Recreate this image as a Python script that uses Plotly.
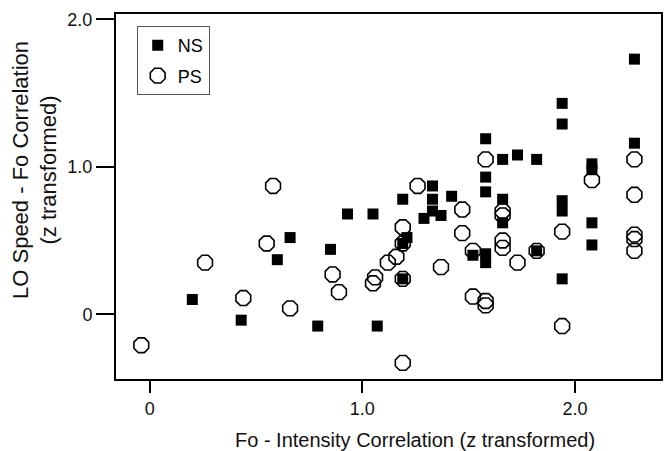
import plotly.graph_objects as go

# NS (filled squares)
ns_x = [0.20, 0.43, 0.60, 0.66, 0.79, 0.85, 0.93, 1.05, 1.07, 1.19, 1.19, 1.21, 1.19,
        1.29, 1.33, 1.33, 1.33, 1.37, 1.42, 1.52, 1.58, 1.58, 1.58, 1.58, 1.58,
        1.66, 1.66, 1.66, 1.73, 1.82, 1.82, 1.94, 1.94, 1.94, 1.94, 1.94,
        2.08, 2.08, 2.08, 2.08, 2.28, 2.28]
ns_y = [0.10, -0.04, 0.37, 0.52, -0.08, 0.44, 0.68, 0.68, -0.08, 0.78, 0.48, 0.52, 0.24,
        0.65, 0.87, 0.78, 0.70, 0.67, 0.80, 0.40, 1.19, 0.93, 0.83, 0.41, 0.35,
        1.05, 0.78, 0.62, 1.08, 1.05, 0.43, 1.43, 1.29, 0.77, 0.70, 0.24,
        1.02, 0.98, 0.62, 0.47, 1.73, 1.16]

# PS (open octagons)
ps_x = [-0.04, 0.26, 0.44, 0.55, 0.58, 0.66, 0.86, 0.89, 1.05, 1.06, 1.12, 1.16,
        1.19, 1.19, 1.19, 1.19, 1.26, 1.37, 1.47, 1.47, 1.52, 1.52, 1.58, 1.58, 1.58,
        1.66, 1.66, 1.66, 1.66, 1.73, 1.82, 1.94, 1.94, 2.08,
        2.28, 2.28, 2.28, 2.28, 2.28]
ps_y = [-0.21, 0.35, 0.11, 0.48, 0.87, 0.04, 0.27, 0.15, 0.21, 0.25, 0.35, 0.39,
        0.59, 0.48, 0.24, -0.33, 0.87, 0.32, 0.71, 0.55, 0.43, 0.12, 1.05, 0.09, 0.06,
        0.70, 0.67, 0.50, 0.45, 0.35, 0.43, 0.56, -0.08, 0.91,
        1.05, 0.81, 0.54, 0.51, 0.43]

tick_vals = [0, 1, 2]
x_tick_text = ["0", "1.0", "2.0"]
y_tick_text = ["0", "1.0", "2.0"]

FONT = "Liberation Sans, Arial, sans-serif"

fig = go.Figure()
fig.add_trace(go.Scatter(
    x=ns_x, y=ns_y, mode="markers", name="NS", legendgroup="a",
    marker=dict(symbol="square", size=11, color="black", line=dict(width=0)),
))
fig.add_trace(go.Scatter(
    x=ps_x, y=ps_y, mode="markers", name="PS", legendgroup="b",
    marker=dict(symbol="octagon-open", size=16, color="black", line=dict(width=1.6, color="black")),
))

fig.update_layout(
    width=665, height=451,
    margin=dict(l=116, r=2, t=14, b=72),
    paper_bgcolor="white", plot_bgcolor="white",
    font=dict(family=FONT, size=18, color="#111"),
    showlegend=True,
    legend=dict(
        x=0.038, y=0.967, xanchor="left", yanchor="top",
        bordercolor="#555", borderwidth=1, bgcolor="white",
        font=dict(size=18, color="black"), tracegroupgap=4,
    ),
    xaxis=dict(
        range=[-0.159, 2.405], tickvals=tick_vals, ticktext=x_tick_text,
        showgrid=False, zeroline=False, showline=True, mirror=True,
        linecolor="black", linewidth=2, ticks="outside", ticklen=12,
        tickwidth=2, tickcolor="black", tickfont=dict(size=18),
    ),
    yaxis=dict(
        range=[-0.439, 2.036], tickvals=tick_vals, ticktext=y_tick_text,
        showgrid=False, zeroline=False, showline=True, mirror=True,
        linecolor="black", linewidth=2, ticks="outside", ticklen=18,
        tickwidth=2, tickcolor="black", tickfont=dict(size=18),
    ),
    annotations=[
        dict(text="Fo - Intensity Correlation (z transformed)", xref="x", yref="paper",
             x=1.25, y=-0.167, xanchor="center", yanchor="middle", showarrow=False,
             font=dict(size=20)),
        dict(text="LO Speed - Fo Correlation<br>(z transformed)", xref="paper", yref="y",
             x=-0.15, y=0.98, xanchor="center", yanchor="middle", showarrow=False,
             textangle=-90, font=dict(size=22)),
    ],
)

fig.write_html("out.html")
